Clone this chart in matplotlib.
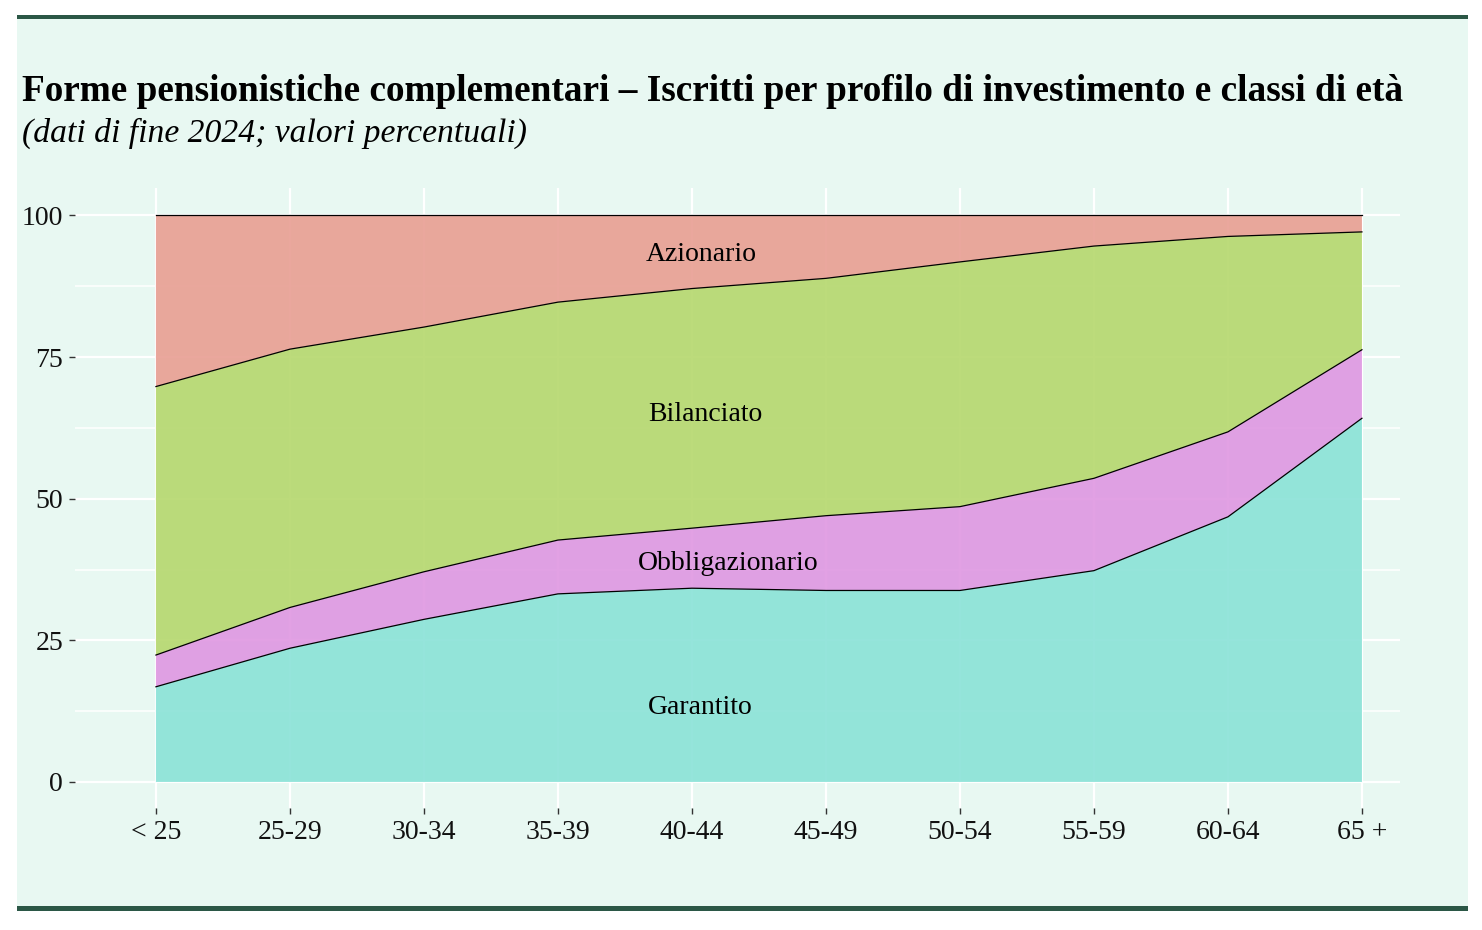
import matplotlib
matplotlib.use("Agg")
import matplotlib.pyplot as plt
from matplotlib.ticker import MultipleLocator
from matplotlib.patches import Rectangle
import numpy as np

categories = ["< 25", "25-29", "30-34", "35-39", "40-44", "45-49", "50-54", "55-59", "60-64", "65 +"]
garantito = [16.8, 23.6, 28.7, 33.2, 34.2, 33.8, 33.8, 37.3, 46.8, 64.2]
obbligazionario = [5.6, 7.2, 8.4, 9.5, 10.6, 13.2, 14.8, 16.3, 15.0, 12.1]
bilanciato = [47.4, 45.6, 43.2, 42.0, 42.3, 41.9, 43.2, 41.0, 34.5, 20.8]
azionario = [30.2, 23.6, 19.7, 15.3, 12.9, 11.1, 8.2, 5.4, 3.7, 2.9]
series_names = ["Garantito", "Obbligazionario", "Bilanciato", "Azionario"]
y_ticks = [0, 25, 50, 75, 100]

title = "Forme pensionistiche complementari – Iscritti per profilo di investimento e classi di età"
subtitle = "(dati di fine 2024; valori percentuali)"

colors = ["#8AE2D7", "#DF97E2", "#B5D76D", "#E89E92"]
bg = "#E8F8F2"
dark = "#2B5746"

plt.rcParams['font.family'] = ['Liberation Serif', 'DejaVu Serif']

W, H = 1482, 930
fig = plt.figure(figsize=(W / 100, H / 100), dpi=100)
fig.patch.set_facecolor("white")

# panel background
fig.patches.append(Rectangle((17 / W, 1 - 908 / H), (1468 - 17) / W, (908 - 17) / H,
                             transform=fig.transFigure, facecolor=bg, edgecolor="none", zorder=-2))
fig.patches.append(Rectangle((17 / W, 1 - 19.5 / H), (1468 - 17) / W, 4.5 / H,
                             transform=fig.transFigure, facecolor=dark, edgecolor="none", zorder=-1))
fig.patches.append(Rectangle((17 / W, 1 - 910.5 / H), (1468 - 17) / W, 4.5 / H,
                             transform=fig.transFigure, facecolor=dark, edgecolor="none", zorder=-1))

ax = fig.add_axes([75 / W, 1 - 808 / H, (1400 - 75) / W, (808 - 188) / H])
ax.set_zorder(2)
ax.set_facecolor("none")
x = np.arange(len(categories))
data = [garantito, obbligazionario, bilanciato, azionario]
ax.stackplot(x, *data, colors=colors, alpha=0.9, linewidth=0, zorder=2)
cum = np.cumsum(np.array(data), axis=0)
for row in cum:
    ax.plot(x, row, color="black", lw=0.9, zorder=3)

ax.set_xlim(-0.604, 9.284)
ax.set_ylim(-4.6, 104.85)
ax.set_xticks(x)
ax.set_xticklabels(categories)
ax.set_yticks(y_ticks)
ax.yaxis.set_minor_locator(MultipleLocator(12.5))
ax.set_axisbelow(True)
ax.grid(True, which="major", color="white", lw=1.6, zorder=0)
ax.grid(True, which="minor", axis="y", color="white", lw=1.1, zorder=0)
for s in ax.spines.values():
    s.set_visible(False)
ax.tick_params(axis="both", which="major", length=4.5, width=1.0, color="#333333",
               labelsize=20, labelcolor="#111111")
ax.tick_params(axis="y", which="minor", length=0)
ax.tick_params(axis="y", pad=4)
ax.tick_params(axis="x", pad=4)

# area labels
labels_pos = [(4.06, 13.2), (4.27, 38.5), (4.1, 64.9), (4.07, 93.1)]
for name, (lx, ly) in zip(series_names, labels_pos):
    ax.text(lx, ly, name, ha="center", va="center", fontsize=20, color="black", zorder=4)

fig.text(22 / W, 1 - 101 / H, title, fontsize=26.8, fontweight="bold", ha="left", va="baseline")
fig.text(22 / W, 1 - 142 / H, subtitle, fontsize=24.2, fontstyle="italic", ha="left", va="baseline")

fig.savefig("out.png", dpi=100, facecolor="white")
